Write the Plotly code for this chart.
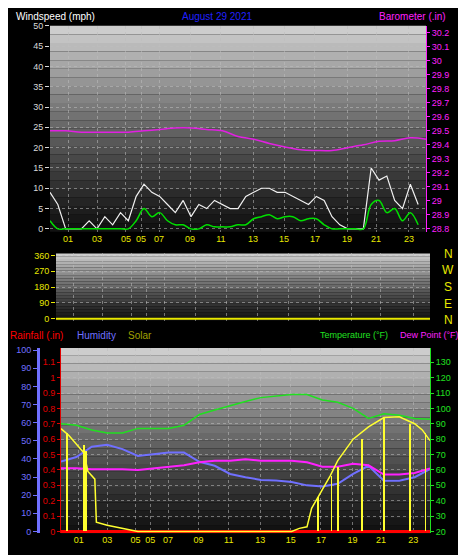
import plotly.graph_objects as go

# ---------------- data ----------------
half_hours = [i * 0.5 for i in range(48)]
hours = list(range(25))
tick_hours = [1.15, 3.0, 4.85, 5.81, 6.96, 8.94, 10.91, 12.96, 14.94, 16.91, 18.96, 20.81, 22.91]
tick_labels = ["01", "03", "05", "05", "07", "09", "11", "13", "15", "17", "19", "21", "23"]

wind_gust = [9, 6, 0, 0, 0, 2, 0, 3, 1, 4, 2, 8, 11, 9, 8, 6, 4, 7, 3, 6, 5, 7, 6, 5,
             5, 8, 9, 10, 10, 9, 9, 8, 7, 6, 8, 7, 3, 1, 0, 0, 0, 15, 12, 13, 7, 5, 11, 6]
wind_avg = [2, 0, 0, 0, 0, 0, 0, 0, 0, 0, 0, 2, 5, 3, 4, 2, 1, 1, 0, 0, 1, 0.5, 0.5, 0.5,
            1, 1, 2.5, 3, 3.5, 2.5, 3, 3, 2, 2.5, 2.5, 1, 0, 0, 0, 0, 0, 6, 7, 4, 5, 2, 4, 1]
barometer = [29.50, 29.50, 29.49, 29.49, 29.49, 29.49, 29.50, 29.51, 29.52, 29.52, 29.51, 29.50,
             29.46, 29.44, 29.41, 29.385, 29.365, 29.36, 29.36, 29.38, 29.40, 29.425, 29.43, 29.45, 29.44]
wind_dir = [0] * 25

temperature = [90, 89, 86, 84, 84, 87, 87, 87, 89, 96, 99, 102, 104.5, 107, 108, 109, 109,
               105.5, 104, 100, 93.5, 96.5, 95.5, 93.5, 93]
dew_point = [61, 61, 60.5, 60.5, 60.5, 60, 61, 62, 63, 65, 66, 66, 67, 66, 66, 66, 65,
             62, 62, 64, 63, 57, 57, 58, 61]
humidity = [38.6, 41, 46.7, 47.8, 45.4, 41.6, 42.5, 43.5, 43.5, 38.4, 36.2, 31.7, 29.9, 28.4,
            28.1, 27.2, 25.4, 24.8, 26.3, 31.7, 36.2, 28, 28, 29.9, 34.4]
rainfall = [0] * 25
solar_hours = [0, 0.5, 1.5, 1.75, 2.2, 2.3, 3, 4, 5, 15, 15.5, 16, 16.3, 16.7, 17.5, 18, 19, 20,
               21, 22, 23, 23.5, 24]
solar = [668, 625, 510, 390, 340, 60, 40, 20, 0, 0, 20, 30, 150, 220, 360, 460, 600, 680,
         740, 745, 700, 660, 590]
spike_hours = [0.4, 1.5, 1.65, 16.7, 17.6, 18.0, 19.6, 21.0, 22.7, 23.7]
spike_vals = [640, 560, 520, 220, 360, 420, 600, 740, 700, 640]

FONT = "Liberation Sans"
W, H = 466, 555

def dom_x(a, b):
    return [a / W, b / W]

def dom_y(top, bot):
    return [1 - bot / H, 1 - top / H]

fig = go.Figure()

fig.add_trace(go.Scatter(x=half_hours, y=wind_gust, mode="lines", line=dict(color="#f0f0f0", width=1.2),
                         xaxis="x", yaxis="y"))
fig.add_trace(go.Scatter(x=half_hours, y=wind_avg, mode="lines", line=dict(color="#00e000", width=1.5, shape="spline"),
                         xaxis="x", yaxis="y"))
fig.add_trace(go.Scatter(x=hours, y=barometer, mode="lines", line=dict(color="#e020e0", width=1.5, shape="spline"),
                         xaxis="x", yaxis="y2"))
fig.add_trace(go.Scatter(x=hours, y=wind_dir, mode="lines", line=dict(color="#e8e800", width=2),
                         xaxis="x2", yaxis="y3"))
fig.add_trace(go.Bar(x=spike_hours, y=spike_vals, width=0.05, marker=dict(color="#ffff30", line=dict(width=0)),
                     xaxis="x3", yaxis="y7"))
fig.add_trace(go.Scatter(x=solar_hours, y=solar, mode="lines", line=dict(color="#ffff30", width=1.5),
                         xaxis="x3", yaxis="y7"))
fig.add_trace(go.Scatter(x=hours, y=temperature, mode="lines", line=dict(color="#20e020", width=1.5),
                         xaxis="x3", yaxis="y6"))
fig.add_trace(go.Scatter(x=hours, y=dew_point, mode="lines", line=dict(color="#ff20ff", width=2),
                         xaxis="x3", yaxis="y6"))
fig.add_trace(go.Scatter(x=hours, y=humidity, mode="lines", line=dict(color="#7070ff", width=2),
                         xaxis="x3", yaxis="y4"))
fig.add_trace(go.Scatter(x=hours, y=rainfall, mode="lines", line=dict(color="#ff0000", width=3),
                         xaxis="x3", yaxis="y5"))

grid = dict(showgrid=True, gridcolor="rgba(190,190,190,0.55)", griddash="dot", gridwidth=1, zeroline=False)
xcommon = dict(range=[0, 24], tickvals=tick_hours, ticktext=tick_labels,
               tickfont=dict(color="#e8e800", size=9, family=FONT), ticks="", **grid)

shapes = []
def gradient(xr, yr, n=24):
    for i in range(n):
        t = i / n
        c = int(14 + (205 - 14) * (1 - t) ** 1.2)
        shapes.append(dict(type="rect", xref=xr + " domain", yref=yr + " domain",
                           x0=0, x1=1, y0=1 - (i + 1) / n, y1=1 - i / n,
                           fillcolor=f"rgb({c},{c},{c})", line=dict(width=0), layer="below"))
gradient("x", "y")
gradient("x2", "y3")
gradient("x3", "y5")

fig.update_layout(
    width=W, height=H, margin=dict(l=0, r=0, t=0, b=0),
    paper_bgcolor="black", plot_bgcolor="black", showlegend=False, bargap=0,
    font=dict(family=FONT, size=9),
    xaxis=dict(domain=dom_x(42, 418), anchor="y", **xcommon),
    xaxis2=dict(domain=dom_x(48, 422), anchor="y3", showticklabels=False, **xcommon),
    xaxis3=dict(domain=dom_x(53, 422), anchor="y5", **xcommon),
    yaxis=dict(domain=dom_y(13, 222), range=[-0.72, 50.0], dtick=5, anchor="x",
               tickfont=dict(color="#d8d8d8", size=9), ticks="outside", ticklen=4, tickcolor="#d8d8d8", **grid),
    yaxis2=dict(overlaying="y", side="right", range=[28.779, 30.25], dtick=0.1, anchor="x",
                tickfont=dict(color="#ff20ff", size=9), ticks="outside", ticklen=3, tickcolor="#ff20ff",
                showgrid=False, zeroline=False, showline=True, linecolor="#ff20ff"),
    yaxis3=dict(domain=dom_y(244, 312), range=[-10, 371], tickvals=[0, 90, 180, 270, 360], anchor="x2",
                tickfont=dict(color="#e8e800", size=9), ticks="outside", ticklen=4, tickcolor="#e8e800", **grid),
    yaxis5=dict(domain=dom_y(340, 528), range=[-0.0128, 1.192], tickvals=[i / 10 for i in range(12)],
                ticktext=["0", "0.1", "0.2", "0.3", "0.4", "0.5", "0.6", "0.7", "0.8", "0.9", "1", "1.1"],
                anchor="x3", tickfont=dict(color="#e00000", size=9), ticks="outside", ticklen=3,
                tickcolor="#e00000", showline=True, linecolor="#e00000", **grid),
    yaxis4=dict(overlaying="y5", side="left", anchor="free", position=30 / W, range=[-1.09, 101.1], dtick=10,
                tickfont=dict(color="#7070ff", size=9), ticks="outside", ticklen=4, tickcolor="#7070ff",
                showline=True, linecolor="#7070ff", linewidth=3, showgrid=False, zeroline=False),
    yaxis6=dict(overlaying="y5", side="right", range=[18.72, 139.2], anchor="x3",
                tickvals=list(range(20, 140, 10)),
                tickfont=dict(color="#20e020", size=9), ticks="outside", ticklen=3, tickcolor="#20e020",
                showline=True, linecolor="#20e020", showgrid=False, zeroline=False),
    yaxis7=dict(overlaying="y5", range=[-12.8, 1192], visible=False),
    shapes=shapes,
)

ann = [
    ("Windspeed (mph)", 6, 4, "#ffffff", "left", 10),
    ("August 29 2021", 172, 4, "#2020ff", "left", 10),
    ("Barometer (.in)", 440, 4, "#ff20ff", "right", 10),
    ("Rainfall (.in)", 0, 327, "#ff0000", "left", 10),
    ("Humidity", 67, 327, "#7070ff", "left", 10),
    ("Solar", 118, 327, "#a0a000", "left", 10),
    ("Temperature (°F)", 310, 327, "#20e020", "left", 9),
    ("Dew Point (°F)", 390, 327, "#ff20ff", "left", 9),
]
for txt, x, y, c, al, fs in ann:
    fig.add_annotation(text=txt, x=x / W, y=1 - y / H, xref="paper", yref="paper", showarrow=False,
                       xanchor=al, yanchor="middle", font=dict(color=c, size=fs, family=FONT))
for lbl, y in zip(["N", "W", "S", "E", "N"], [245, 261, 278, 295, 311]):
    fig.add_annotation(text=lbl, x=440 / W, y=1 - y / H, xref="paper", yref="paper", showarrow=False,
                       xanchor="center", yanchor="middle", font=dict(color="#e8e800", size=12, family=FONT))

fig.write_html("out.html")
